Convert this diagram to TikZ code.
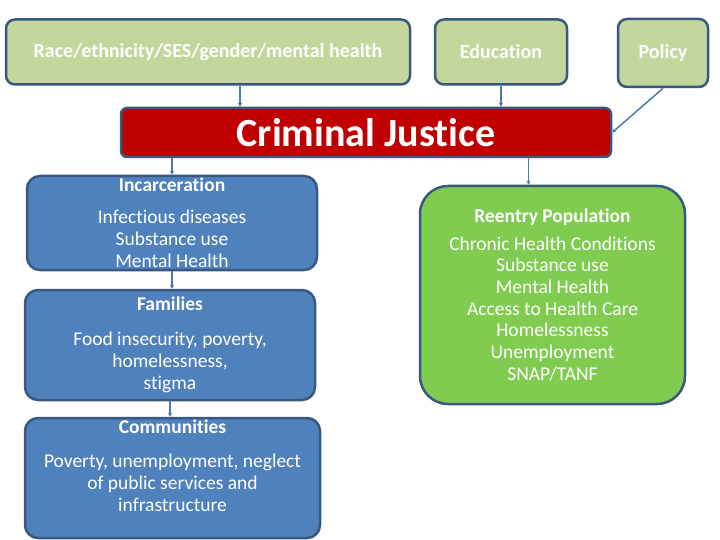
\documentclass[tikz,border=0pt]{standalone}
\usepackage{fontspec}
\setmainfont{Carlito}[Ligatures=NoCommon]
\usetikzlibrary{arrows.meta}
\definecolor{factgreen}{RGB}{195,214,155}
\definecolor{boxedge}{RGB}{56,88,128}
\definecolor{justred}{RGB}{192,0,0}
\definecolor{impactblue}{RGB}{79,129,189}
\definecolor{reentrygreen}{RGB}{128,204,80}
\definecolor{linkblue}{RGB}{80,120,170}
\newcommand{\boxtitle}[1]{{\fontsize{19.5}{22}\selectfont\bfseries #1}}

\begin{document}
\begin{tikzpicture}[x=1pt,y=-1pt,>={Stealth[length=4pt,width=4pt]}]
    \tikzstyle{every node}=[draw=boxedge,line width=2.5pt,rounded corners=9pt,text=white,align=center,inner sep=0pt];
    \tikzstyle{factor}=[fill=factgreen,font=\fontsize{20}{22}\selectfont\bfseries];
    \tikzstyle{impact}=[fill=impactblue,rounded corners=13pt,font=\fontsize{19.5}{22}\selectfont];
    \tikzstyle{link}=[draw=linkblue,line width=1.5pt,->];
    \useasboundingbox (0,0) rectangle (720,540);

    \node at (208, 52) (race)   [factor,minimum width=404pt,minimum height=65pt] {Race/ethnicity/SES/gender/mental health};
    \node at (501, 52) (edu)    [factor,minimum width=132pt,minimum height=65pt] {Education};
    \node at (663, 53)   (policy) [factor,minimum width=90pt,minimum height=68pt] {Policy};
    \node at (366, 132.5) (cj)    [fill=justred,rounded corners=6pt,minimum width=490pt,minimum height=49pt,font=\fontsize{40}{44}\selectfont\bfseries] {Criminal Justice};

    \node at (172, 223) (incar) [impact,minimum width=290pt,minimum height=94pt]
        {\boxtitle{Incarceration}\\[10pt] Infectious diseases\\ Substance use\\ Mental Health};
    \node at (170, 345) (fam)   [impact,minimum width=290pt,minimum height=110pt]
        {\boxtitle{Families}\\[13pt] Food insecurity, poverty,\\ homelessness,\\ stigma};
    \node at (172.5, 478) (comm) [impact,minimum width=295pt,minimum height=120pt]
        {\boxtitle{Communities}\\[12pt] Poverty, unemployment, neglect\\ of public services and\\ infrastructure\\[2pt] \mbox{}};
    \node at (552.5, 295) (reentry) [fill=reentrygreen,rounded corners=28pt,minimum width=265pt,minimum height=218pt,font=\fontsize{19.5}{21.7}\selectfont]
        {\boxtitle{Reentry Population}\\[6pt] Chronic Health Conditions\\ Substance use\\ Mental Health\\ Access to Health Care\\ Homelessness\\ Unemployment\\ SNAP/TANF};

    \draw[link] ([xshift=32pt]race.south) -- ([xshift=32pt]race.south |- cj.north);
    \draw[link] (edu.south) -- (edu.south |- cj.north);
    \draw[link] (policy.south) -- (cj.east);
    \draw[link] (cj.south -| incar.north) -- (incar.north);
    \draw[link] (incar.south) -- (incar.south |- fam.north);
    \draw[link] (fam.south) -- (fam.south |- comm.north);
    \draw[link] ([xshift=-24pt]cj.south -| reentry.north) -- ([xshift=-24pt]reentry.north);
\end{tikzpicture}
\end{document}
